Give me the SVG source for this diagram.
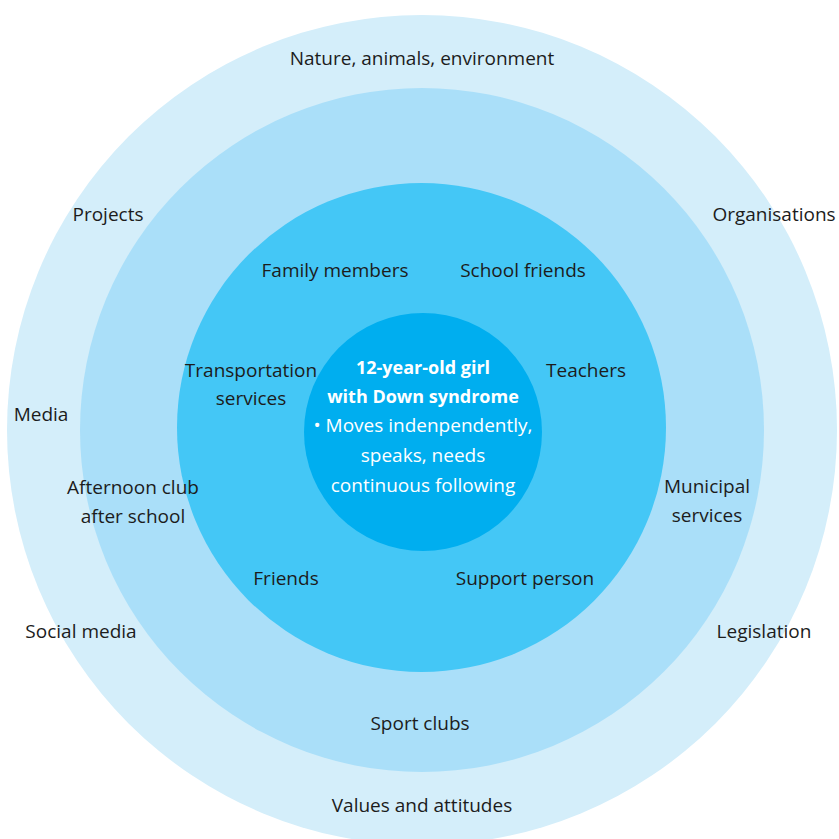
<svg xmlns="http://www.w3.org/2000/svg" width="839" height="839" viewBox="0 0 839 839">
<style>
.lbl{font-family:"Open Sans","Noto Sans","Liberation Sans",sans-serif;font-size:19px;fill:#1c1c1c;text-anchor:middle}
.ctr{font-family:"Open Sans","Noto Sans","Liberation Sans",sans-serif;font-size:19px;fill:#ffffff;text-anchor:middle}
.b{font-weight:bold;font-size:18px}
</style>
<rect width="839" height="839" fill="#ffffff"/>
<g id="ring-society"><circle cx="422" cy="430" r="415" fill="#D4EEFA"/></g>
<g id="ring-community"><circle cx="422" cy="430" r="342" fill="#AADFF9"/></g>
<g id="ring-close"><circle cx="421.5" cy="427.5" r="244.5" fill="#44C7F6"/></g>
<g id="center"><circle cx="423" cy="432" r="119" fill="#00AEEF"/>
<text class="ctr b" x="423" y="374">12-year-old girl</text>
<text class="ctr b" x="423" y="403">with Down syndrome</text>
<text class="ctr" x="423" y="432">• Moves indenpendently,</text>
<text class="ctr" x="423" y="462">speaks, needs</text>
<text class="ctr" x="423" y="492">continuous following</text>
</g>
<g id="connectors"></g>
<g id="n-nature"><text class="lbl" x="422" y="65">Nature, animals, environment</text></g>
<g id="n-projects"><text class="lbl" x="108" y="221">Projects</text></g>
<g id="n-organisations"><text class="lbl" x="774" y="221">Organisations</text></g>
<g id="n-media"><text class="lbl" x="41" y="421">Media</text></g>
<g id="n-afternoon"><text class="lbl" x="133" y="494">Afternoon club</text><text class="lbl" x="133" y="523">after school</text></g>
<g id="n-municipal"><text class="lbl" x="707" y="493">Municipal</text><text class="lbl" x="707" y="522">services</text></g>
<g id="n-social"><text class="lbl" x="81" y="638">Social media</text></g>
<g id="n-legislation"><text class="lbl" x="764" y="638">Legislation</text></g>
<g id="n-sport"><text class="lbl" x="420" y="730">Sport clubs</text></g>
<g id="n-values"><text class="lbl" x="422" y="812">Values and attitudes</text></g>
<g id="n-family"><text class="lbl" x="335" y="277">Family members</text></g>
<g id="n-school"><text class="lbl" x="523" y="277">School friends</text></g>
<g id="n-transport"><text class="lbl" x="251" y="377">Transportation</text><text class="lbl" x="251" y="405">services</text></g>
<g id="n-teachers"><text class="lbl" x="586" y="377">Teachers</text></g>
<g id="n-friends"><text class="lbl" x="286" y="585">Friends</text></g>
<g id="n-support"><text class="lbl" x="525" y="585">Support person</text></g>
</svg>
